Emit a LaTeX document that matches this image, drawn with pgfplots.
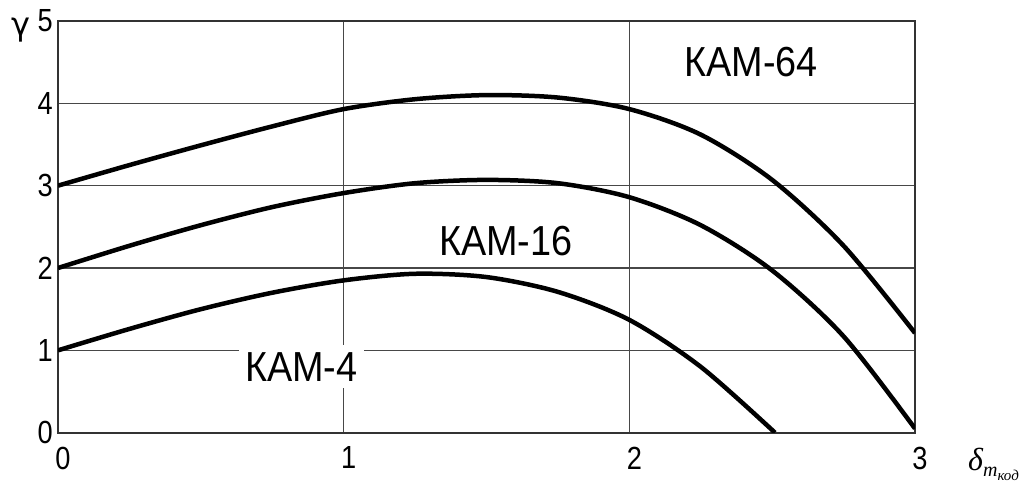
\documentclass[border=0pt]{standalone}
\usepackage{fontspec}
\setmainfont{Liberation Sans}
\newfontfamily\lblfont[FakeStretch=0.9]{Liberation Sans}
\newfontfamily\tickfont[FakeStretch=0.85]{Liberation Sans}
\newfontfamily\timesfont{Liberation Serif}
\newfontfamily\greekfont{DejaVu Sans}
\usepackage{pgfplots}
\pgfplotsset{compat=1.18}

% gamma versus delta for three QAM orders
\pgfplotstableread{
x     y
0     3.00
0.25  3.25
0.5   3.49
0.75  3.72
1.0   3.93
1.25  4.05
1.5   4.10
1.75  4.07
2.0   3.93
2.25  3.62
2.5   3.07
2.75  2.27
3.0   1.21
}\qamsixtyfour
\pgfplotstableread{
x     y
0     2.00
0.25  2.27
0.5   2.52
0.75  2.74
1.0   2.91
1.25  3.03
1.5   3.07
1.75  3.03
2.0   2.86
2.25  2.52
2.5   1.97
2.75  1.17
3.0   0.05
}\qamsixteen
\pgfplotstableread{
x     y
0     1.00
0.25  1.26
0.5   1.50
0.75  1.70
1.0   1.85
1.25  1.93
1.5   1.89
1.75  1.71
2.0   1.37
2.25  0.80
2.51  0.00
}\qamfour

\begin{document}
\begin{tikzpicture}
\begin{axis}[
  scale only axis,
  width=857bp, height=411.7bp,
  xmin=0, xmax=3, ymin=0, ymax=5,
  xtick={0,1,2,3}, ytick={0,1,2,3,4,5},
  major tick length=0pt,
  grid=major,
  major grid style={line width=1.2bp, black!72},
  axis line style={line width=1.8bp, black!80},
  /pgf/number format/assume math mode=true,
  tick label style={font=\tickfont\fontsize{32bp}{32bp}\selectfont, inner sep=0pt},
  yticklabel style={anchor=east, xshift=-5bp},
  xticklabel style={anchor=north, xshift=5bp, yshift=-14bp},
]
\addplot[black, line width=4.5bp, smooth] table[x=x, y=y] {\qamsixtyfour};
\addplot[black, line width=4.5bp, smooth] table[x=x, y=y] {\qamsixteen};
\addplot[black, line width=4.5bp, smooth] table[x=x, y=y] {\qamfour};

\node[font=\lblfont\fontsize{42bp}{42bp}\selectfont] at (axis cs:2.426,4.50) {КАМ-64};
\node[font=\lblfont\fontsize{42bp}{42bp}\selectfont] at (axis cs:1.568,2.33) {КАМ-16};
\node[font=\lblfont\fontsize{42bp}{42bp}\selectfont, fill=white, inner xsep=6.5bp, inner ysep=7bp] at (axis cs:0.852,0.80) {КАМ-4};

\coordinate (bl) at (rel axis cs:0,0);
\coordinate (tr) at (rel axis cs:1,1);
\end{axis}
\node[font=\greekfont\fontsize{32bp}{32bp}\selectfont] at ([shift={(-37bp,-9bp)}]tr -| bl) {γ};
\node[anchor=base west, inner sep=0pt] at ([shift={(53bp,-38bp)}]bl -| tr)
  {\timesfont\itshape\fontsize{32bp}{32bp}\selectfont δ\raisebox{-6bp}{\fontsize{20bp}{20bp}\selectfont m\raisebox{-4bp}{\fontsize{15bp}{15bp}\selectfont код}}};
\pgfresetboundingbox
\path ([shift={(-58bp,-51.3bp)}]bl) rectangle ([shift={(118bp,21bp)}]tr);
\end{tikzpicture}
\end{document}
